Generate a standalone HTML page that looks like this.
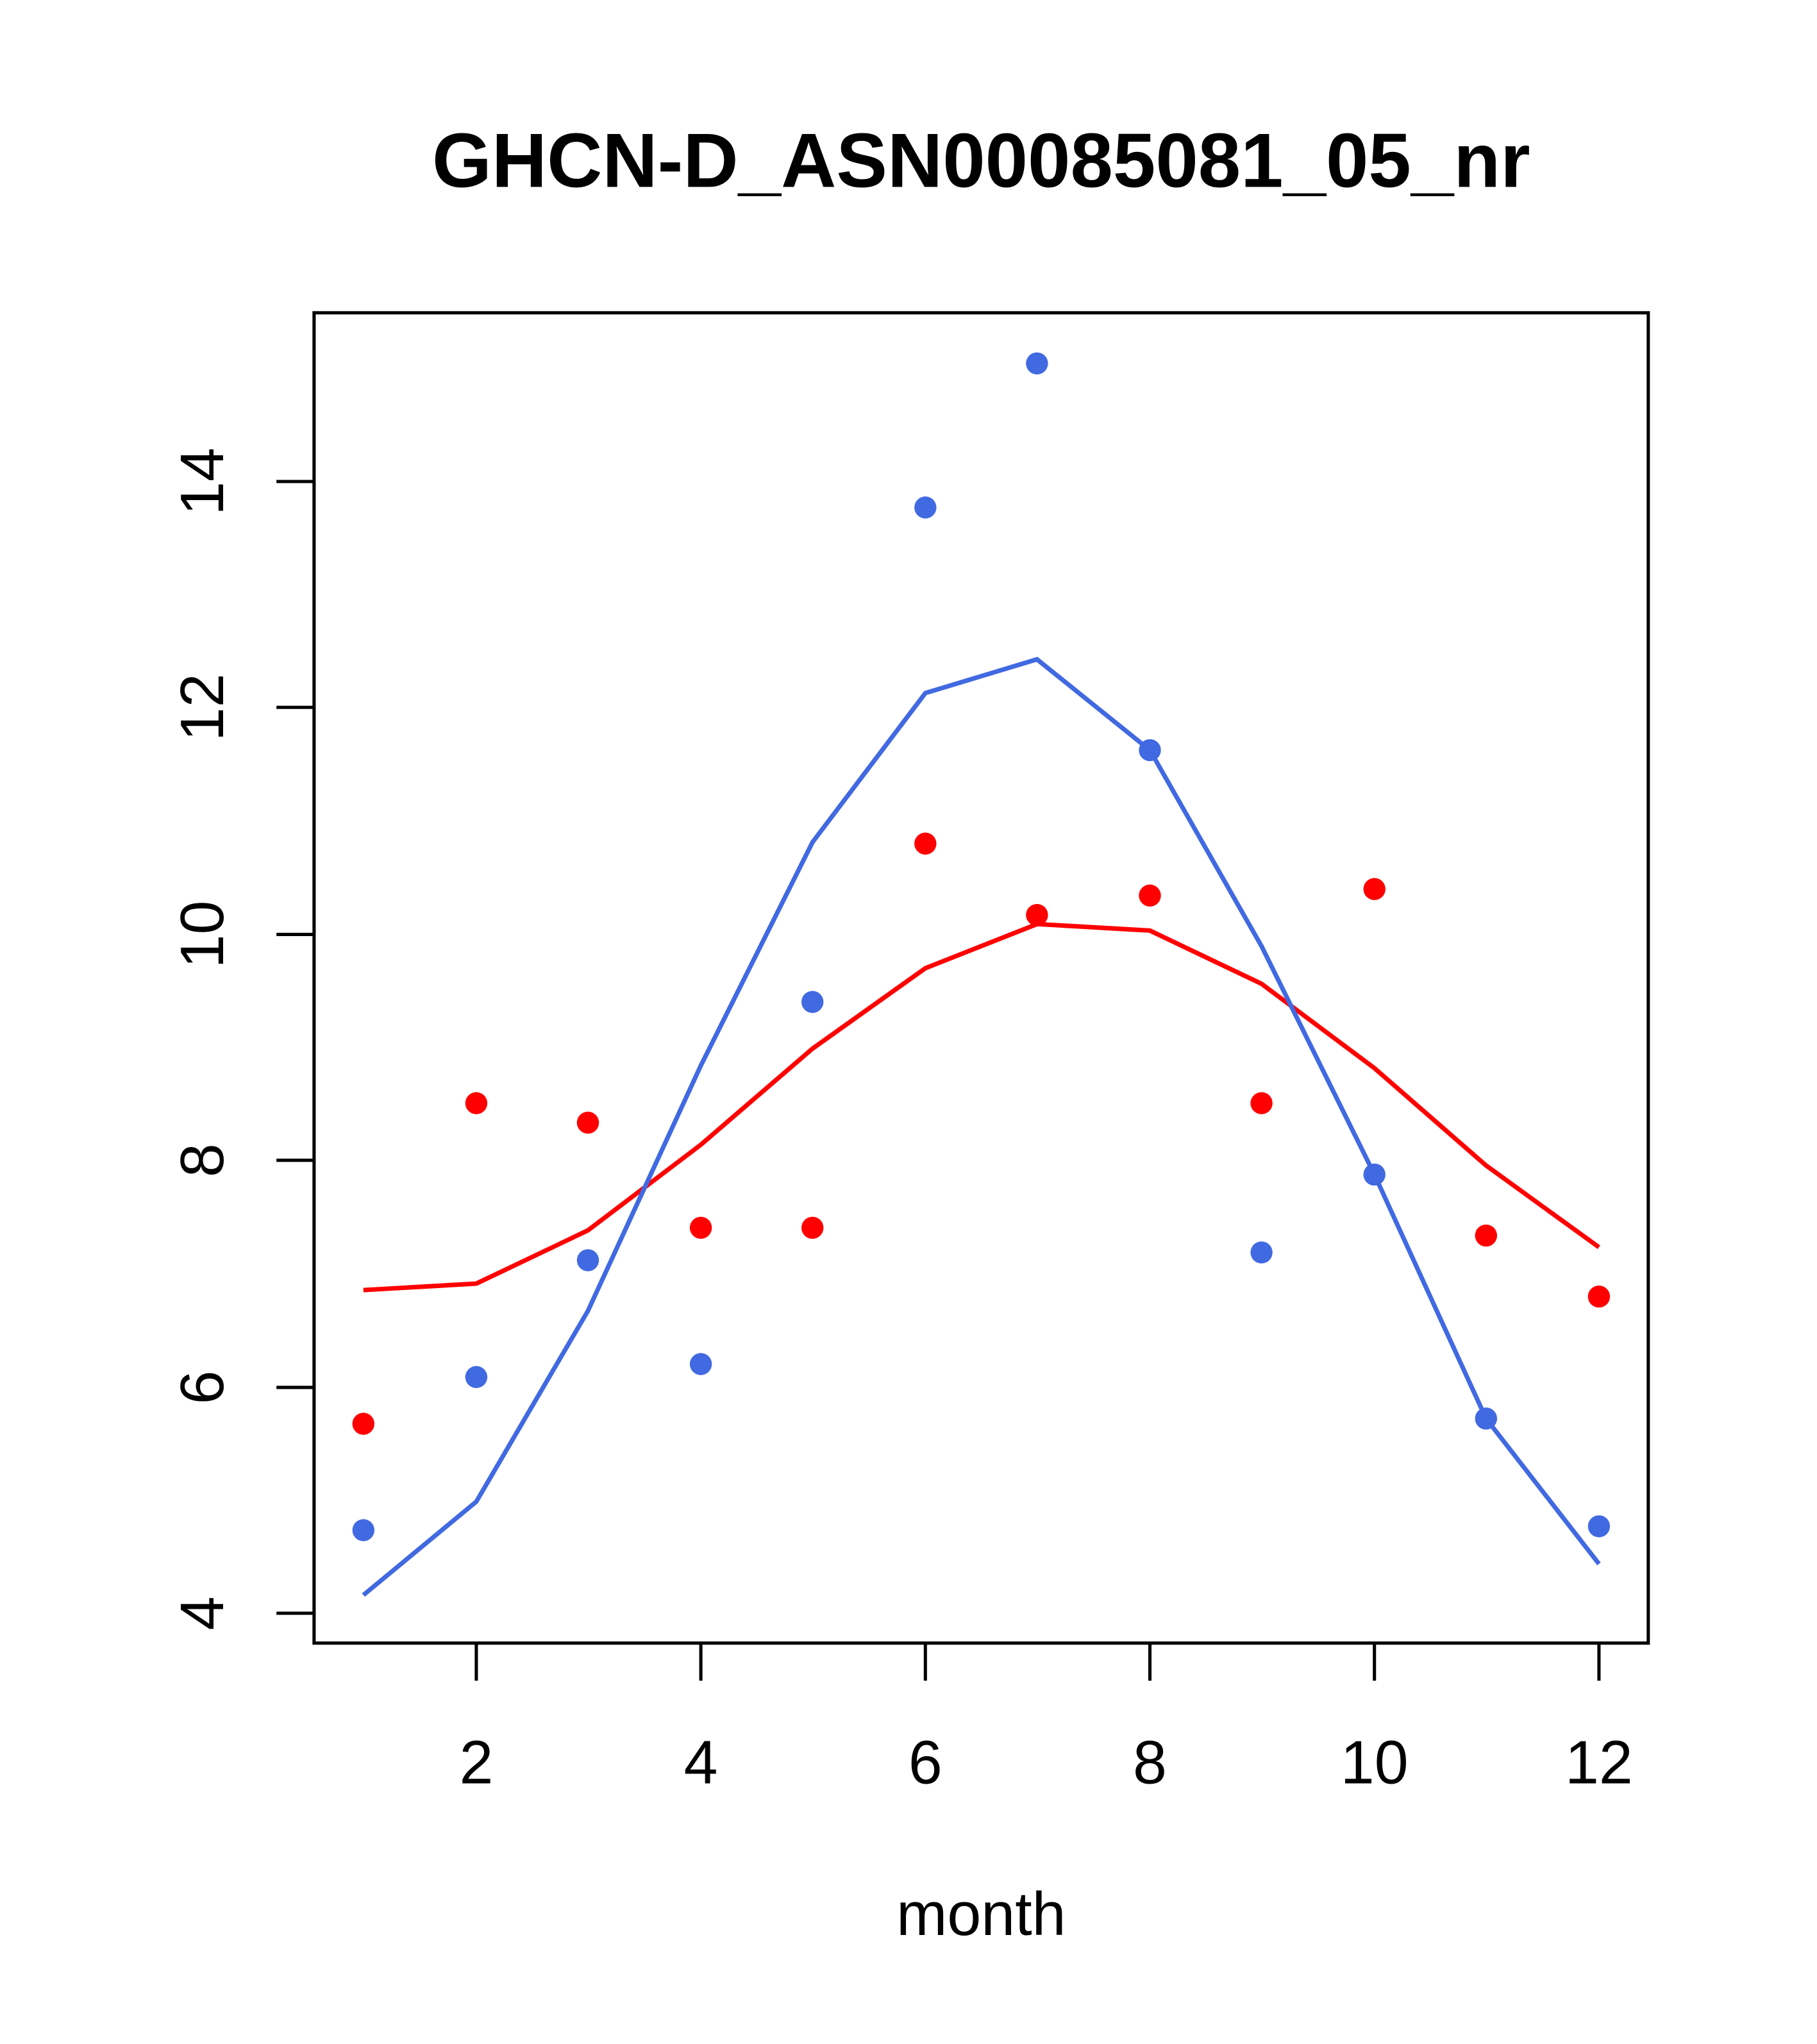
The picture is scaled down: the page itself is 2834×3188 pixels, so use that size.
<!DOCTYPE html>
<html><head><style>html,body{margin:0;padding:0;background:#fff}svg{display:block}</style></head>
<body>
<svg width="2834" height="3188" viewBox="0 0 1400 1574.9" preserveAspectRatio="none" xmlns="http://www.w3.org/2000/svg" font-family="Liberation Sans, sans-serif">
<rect width="1400" height="1575" fill="#fff"/>
<text x="756" y="144" font-size="59" font-weight="bold" text-anchor="middle">GHCN-D_ASN00085081_05_nr</text>
<rect x="242" y="241" width="1028" height="1025" fill="none" stroke="#000" stroke-width="2.5"/>
<g stroke="#000" stroke-width="2.5">
<line x1="367" y1="1266" x2="367" y2="1295"/><line x1="540" y1="1266" x2="540" y2="1295"/><line x1="713" y1="1266" x2="713" y2="1295"/><line x1="886" y1="1266" x2="886" y2="1295"/><line x1="1059" y1="1266" x2="1059" y2="1295"/><line x1="1232" y1="1266" x2="1232" y2="1295"/>
<line x1="242" y1="1243" x2="213" y2="1243"/><line x1="242" y1="1069" x2="213" y2="1069"/><line x1="242" y1="894" x2="213" y2="894"/><line x1="242" y1="720" x2="213" y2="720"/><line x1="242" y1="545" x2="213" y2="545"/><line x1="242" y1="371" x2="213" y2="371"/>
</g>
<g font-size="47" text-anchor="middle">
<text x="367" y="1374">2</text><text x="540" y="1374">4</text><text x="713" y="1374">6</text><text x="886" y="1374">8</text><text x="1059" y="1374">10</text><text x="1232" y="1374">12</text>
<text transform="translate(172,1243) rotate(-90)">4</text><text transform="translate(172,1069) rotate(-90)">6</text><text transform="translate(172,894) rotate(-90)">8</text><text transform="translate(172,720) rotate(-90)">10</text><text transform="translate(172,545) rotate(-90)">12</text><text transform="translate(172,371) rotate(-90)">14</text>
<text x="756" y="1491">month</text>
</g>
<polyline fill="none" stroke="#ff0000" stroke-width="3.5" points="280,994 367,989 453,948 540,882 626,808 713,746 799,712 886,717 972,758 1059,823 1145,898 1232,961"/>
<polyline fill="none" stroke="#4169e1" stroke-width="3.5" points="280,1229 367,1157 453,1010 540,821 626,649 713,534 799,508 886,578 972,729 1059,905 1145,1093 1232,1205"/>
<g fill="#ff0000">
<circle cx="280" cy="1097" r="8.5"/><circle cx="367" cy="850" r="8.5"/><circle cx="453" cy="865" r="8.5"/><circle cx="540" cy="946" r="8.5"/><circle cx="626" cy="946" r="8.5"/><circle cx="713" cy="650" r="8.5"/><circle cx="799" cy="705" r="8.5"/><circle cx="886" cy="690" r="8.5"/><circle cx="972" cy="850" r="8.5"/><circle cx="1059" cy="685" r="8.5"/><circle cx="1145" cy="952" r="8.5"/><circle cx="1232" cy="999" r="8.5"/>
</g>
<g fill="#4169e1">
<circle cx="280" cy="1179" r="8.5"/><circle cx="367" cy="1061" r="8.5"/><circle cx="453" cy="971" r="8.5"/><circle cx="540" cy="1051" r="8.5"/><circle cx="626" cy="772" r="8.5"/><circle cx="713" cy="391" r="8.5"/><circle cx="799" cy="280" r="8.5"/><circle cx="886" cy="578" r="8.5"/><circle cx="972" cy="965" r="8.5"/><circle cx="1059" cy="905" r="8.5"/><circle cx="1145" cy="1093" r="8.5"/><circle cx="1232" cy="1176" r="8.5"/>
</g>
</svg>
</body></html>
